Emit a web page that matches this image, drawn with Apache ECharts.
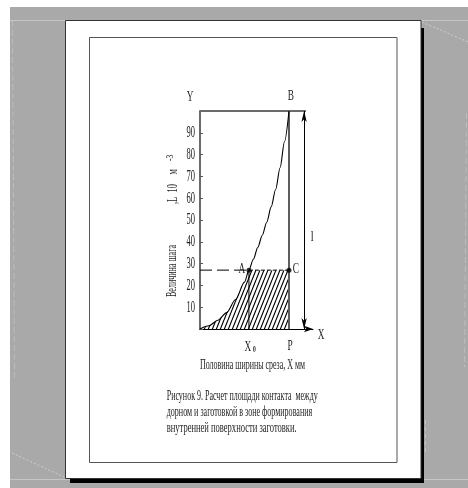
<!DOCTYPE html>
<html><head><meta charset="utf-8">
<script src="https://cdn.jsdelivr.net/npm/echarts@6/dist/echarts.min.js"></script>
<style>html,body{margin:0;padding:0;background:#fff}#c{width:468px;height:488px}</style>
</head><body><div id="c"></div>
<script>
// ---- data ----
const curveX = [0, 10, 20, 30, 40, 50, 55, 60, 65, 70, 75, 80, 85, 90, 95, 100];
const curveY = [0, 1.5, 4, 7.5, 13.5, 21.5, 27, 32, 37.5, 43, 49, 56, 64, 74, 86, 100];
const pointLabels = ['A', 'C'];
const pointX = [55, 100];
const pointY = [27, 27];
const yTickValues = [10, 20, 30, 40, 50, 60, 70, 80, 90];
const yTickLabels = ['10', '20', '30', '40', '50', '60', '70', '80', '90'];
const xAxisMax = 127;
const yAxisMax = 100;
const x0Value = 55;      // X0
const pValue = 100;      // P
const levelValue = 27;   // A-C level
const dimValue = 117;    // dimension line "l"
const topLineEnd = 119;
const captionLines = ['Рисунок 9. Расчет площади контакта  между', 'дорном и заготовкой в зоне формирования', 'внутренней поверхности заготовки.'];
const xTitle = 'Половина ширины среза, X мм';
const yTitleA = 'Величина шага';
const yTitleParts = [',L', '10', 'м'];
const yTitleSup = '-3';

// ---- helpers ----
const SERIF = '"Liberation Serif", "Times New Roman", serif';
const mctx = document.createElement('canvas').getContext('2d');
function fitScale(text, font, width) { mctx.font = font; return width / mctx.measureText(text).width; }
function hatchPattern() {
  const c = document.createElement('canvas'); c.width = 4; c.height = 10;
  const g = c.getContext('2d'); g.strokeStyle = '#000'; g.lineWidth = 1.15;
  g.beginPath();
  for (let k = -1; k <= 1; k++) { g.moveTo(k * 4, 10); g.lineTo(k * 4 + 4, 0); }
  g.stroke();
  return c;
}
function txt(text, x, y, font, sx, o) {
  o = o || {};
  const al = o.align || 'center';
  return { type: 'text', x: x, y: y, scaleX: sx, rotation: o.rotation || 0, z: 100, silent: true,
    style: { text: text, font: font, fill: o.fill || '#1c1c1c', align: al, verticalAlign: 'middle', textAlign: al, textVerticalAlign: 'middle' } };
}

const chart = echarts.init(document.getElementById('c'), null, { renderer: 'canvas' });
const curveData = curveX.map((x, i) => [x, curveY[i]]);
const hatchData = curveData.filter(d => d[0] <= x0Value).concat([[pValue, levelValue]]);

const bg = [
  { type: 'rect', z: 0, silent: true, shape: { x: 10, y: 7, width: 458, height: 481 }, style: { fill: '#a9a9a9' } },
  { type: 'line', z: 0, silent: true, shape: { x1: 10, y1: 20.5, x2: 468, y2: 20.5 }, style: { stroke: '#c6c6c6', lineWidth: 1 } },
  { type: 'line', z: 0, silent: true, shape: { x1: 10, y1: 479.5, x2: 468, y2: 479.5 }, style: { stroke: '#c6c6c6', lineWidth: 1 } },
  { type: 'line', z: 0, silent: true, shape: { x1: 12.5, y1: 21, x2: 14.5, y2: 380 }, style: { stroke: '#bdbdbd', lineWidth: 1, lineDash: [6, 3] } },
  { type: 'line', z: 0, silent: true, shape: { x1: 422, y1: 22, x2: 468, y2: 42 }, style: { stroke: '#cfcfcf', lineWidth: 1, lineDash: [2, 2] } },
  { type: 'line', z: 0, silent: true, shape: { x1: 12, y1: 453, x2: 64, y2: 477 }, style: { stroke: '#cfcfcf', lineWidth: 1, lineDash: [2, 2] } },
  { type: 'line', z: 0, silent: true, shape: { x1: 466.5, y1: 113, x2: 464.5, y2: 367 }, style: { stroke: '#bdbdbd', lineWidth: 1, lineDash: [6, 3] } },
  { type: 'line', z: 0, silent: true, shape: { x1: 425.5, y1: 420, x2: 425.5, y2: 452 }, style: { stroke: '#c4c4c4', lineWidth: 1, lineDash: [4, 3] } },
  { type: 'rect', z: 0, silent: true, shape: { x: 421, y: 28, width: 3, height: 455 }, style: { fill: '#000' } },
  { type: 'rect', z: 0, silent: true, shape: { x: 70, y: 479, width: 354, height: 4 }, style: { fill: '#000' } },
  { type: 'rect', z: 0, silent: true, shape: { x: 65.5, y: 20.5, width: 355.5, height: 458 }, style: { fill: '#fff', stroke: '#333', lineWidth: 1 } },
  { type: 'rect', z: 0, silent: true, shape: { x: 89.5, y: 37.5, width: 307.5, height: 425 }, style: { fill: 'none', stroke: '#555', lineWidth: 1 } }
];

const option = {
  backgroundColor: '#fff',
  animation: false,
  grid: { left: 200, top: 111, width: 113, bottom: 159, containLabel: false },
  xAxis: {
    type: 'value', min: 0, max: xAxisMax,
    axisLine: { show: true, onZero: false, symbol: ['none', 'arrow'], symbolSize: [5, 9], lineStyle: { color: '#000', width: 1 } },
    axisTick: { show: false }, axisLabel: { show: false }, splitLine: { show: false }
  },
  yAxis: {
    type: 'value', min: 0, max: yAxisMax, interval: 10,
    axisLine: { show: true, onZero: false, lineStyle: { color: '#6a6a6a', width: 2 } },
    axisTick: { show: true, inside: true, length: 3, lineStyle: { color: '#555' } },
    axisLabel: { show: false }, splitLine: { show: false }
  },
  series: [
    { type: 'line', data: hatchData, symbol: 'none', z: 1, silent: true,
      lineStyle: { opacity: 0 }, areaStyle: { color: { image: hatchPattern(), repeat: 'repeat' }, opacity: 1 } },
    { type: 'line', data: [[0, yAxisMax], [topLineEnd, yAxisMax]], symbol: 'none', silent: true,
      lineStyle: { color: '#6a6a6a', width: 2 } },
    { type: 'line', data: [[pValue, 0], [pValue, yAxisMax]], symbol: 'none', silent: true,
      lineStyle: { color: '#5e5e5e', width: 2 } },
    { type: 'line', data: [[x0Value, 0], [x0Value, levelValue]], symbol: 'none', silent: true,
      lineStyle: { color: '#000', width: 1 } },
    { type: 'line', data: [[0, levelValue], [x0Value, levelValue]], symbol: 'none', silent: true,
      lineStyle: { color: '#000', width: 1, type: [12, 5] } },
    { type: 'line', data: [[x0Value, levelValue], [pValue, levelValue]], symbol: 'none', silent: true,
      lineStyle: { color: '#000', width: 1, type: [4, 2] } },
    { type: 'line', data: curveData, symbol: 'none', smooth: 0.3, smoothMonotone: 'x', silent: true,
      lineStyle: { color: '#000', width: 1.1 } },
    { type: 'line', data: [], silent: true,
      markLine: { silent: true, symbol: ['arrow', 'arrow'], symbolSize: [4, 11], label: { show: false },
        lineStyle: { color: '#000', width: 1, type: 'solid' },
        data: [[{ coord: [dimValue, 0] }, { coord: [dimValue, yAxisMax] }]] } },
    { type: 'scatter', data: pointX.map((x, i) => [x, pointY[i]]), symbol: 'circle', symbolSize: 5,
      itemStyle: { color: '#000' }, silent: true, z: 5 },
    { type: 'custom', silent: true, z: 6,
      data: yTickValues.map(v => [0, v]),
      renderItem: function (params, api) {
        const p = api.coord([0, api.value(1)]);
        const lab = yTickLabels[params.dataIndex];
        return { type: 'text', x: p[0] - 5, y: p[1], scaleX: 0.5,
          style: { text: lab, font: '17px ' + SERIF, fill: '#222', align: 'right', verticalAlign: 'middle', textAlign: 'right', textVerticalAlign: 'middle' } };
      } }
  ],
  graphic: bg
};
chart.setOption(option);

// annotation text positioned through the grid's scales
const px = v => chart.convertToPixel({ gridIndex: 0 }, v);
const LET = '15px ' + SERIF;
const texts = [];
let p;
p = px([0, yAxisMax]); texts.push(txt('Y', p[0] - 10, p[1] - 14, LET, 0.62));
p = px([pValue, yAxisMax]); texts.push(txt('B', p[0] + 2, p[1] - 15, LET, 0.62));
p = px([xAxisMax, 0]); texts.push(txt('X', p[0] + 8, p[1] + 6, LET, 0.62));
p = px([pointX[0], pointY[0]]); texts.push(txt(pointLabels[0], p[0] - 7, p[1] - 1, LET, 0.62));
p = px([pointX[1], pointY[1]]); texts.push(txt(pointLabels[1], p[0] + 7, p[1] - 1, LET, 0.62));
p = px([pValue, 0]); texts.push(txt('P', p[0] + 1, p[1] + 17, LET, 0.62));
p = px([x0Value, 0]); texts.push(txt('X', p[0] - 1, p[1] + 18, LET, 0.62));
texts.push(txt('0', p[0] + 5.5, p[1] + 20.5, 'bold 8px ' + SERIF, 0.7));
p = px([dimValue, 42.5]); texts.push(txt('l', p[0] + 8, p[1] + 1, LET, 0.7));

const CAP = '14px ' + SERIF;
texts.push(txt(xTitle, 200, 365, CAP, fitScale(xTitle, CAP, 105), { align: 'left' }));
const capW = [151, 145.5, 130];
const capY = [396.5, 412.3, 428.3];
captionLines.forEach((s, i) => texts.push(txt(s, 166.7, capY[i], CAP, fitScale(s, CAP, capW[i]), { align: 'left' })));
const R = Math.PI / 2;
texts.push(txt(yTitleA, 172.5, 297, CAP, fitScale(yTitleA, CAP, 52), { align: 'left', rotation: R }));
const partStart = [204, 192.5, 174.5];
yTitleParts.forEach((s, i) => texts.push(txt(s, 173, partStart[i], CAP, 0.6, { align: 'left', rotation: R })));
texts.push(txt(yTitleSup, 170.5, 161, '10px ' + SERIF, 0.75, { align: 'left', rotation: R }));

chart.setOption({ graphic: bg.concat(texts) });
</script></body></html>
